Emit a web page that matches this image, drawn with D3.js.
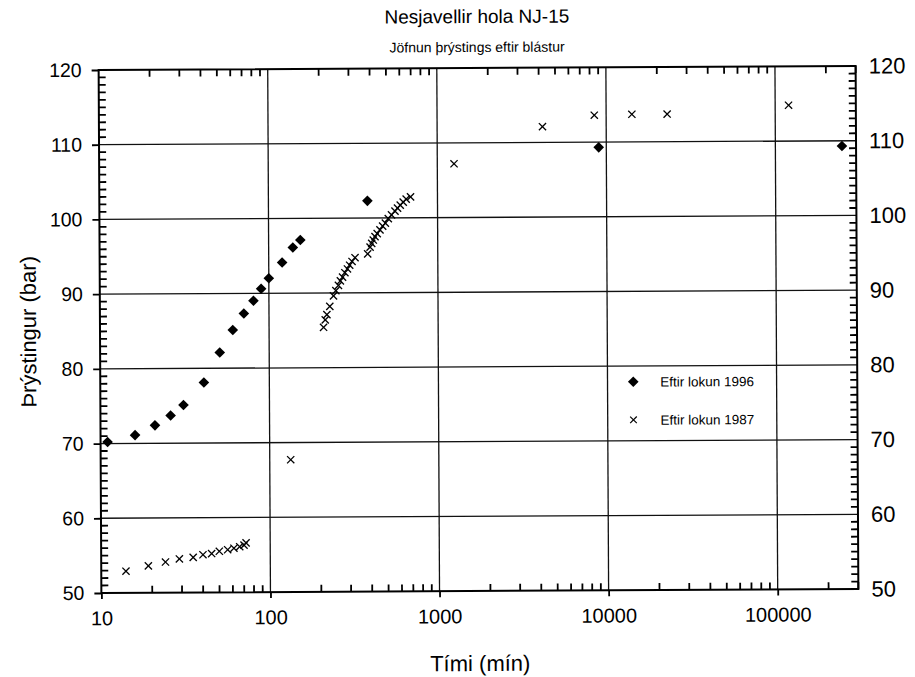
<!DOCTYPE html>
<html>
<head>
<meta charset="utf-8">
<script src="https://cdn.jsdelivr.net/npm/d3@7"></script>
<style>
  html, body { margin: 0; padding: 0; background: #fff; }
  svg { display: block; font-family: "Liberation Sans", Arial, Helvetica, sans-serif; }
</style>
</head>
<body>
<svg id="chart" width="915" height="677"></svg>
<script>
// Pressure recovery after flow stop, well NJ-15 (Nesjavellir)
const title = "Nesjavellir hola NJ-15";
const subtitle = "Jöfnun þrýstings eftir blástur";
const xTitle = "Tími (mín)";
const yTitle = "Þrýstingur (bar)";

// Series: after shut-in 1996 (diamonds)
const time1996 = [11, 16, 21, 26, 31, 41, 51, 61, 71, 81, 90, 100, 120, 139, 154, 385, 9020, 247600];
const pres1996 = [70.2, 71.1, 72.4, 73.7, 75.1, 78.1, 82.1, 85.1, 87.3, 89.0, 90.6, 92.0, 94.1, 96.1, 97.1, 102.3, 109.3, 109.3];

// Series: after shut-in 1987 (crosses)
const time1987 = [14, 19, 24, 29, 35, 40, 45, 50, 56, 61, 66, 70, 72,
  133,
  210, 215, 220, 229, 241, 249, 258, 265, 273, 282, 292, 301, 311, 324,
  385, 398, 407, 416, 426, 439, 456, 473, 491, 511, 534, 560, 580, 602, 627, 653, 693,
  1256, 4200, 8510, 14200, 22950, 120000];
const pres1987 = [52.9, 53.6, 54.1, 54.5, 54.7, 55.05, 55.2, 55.5, 55.7, 55.9, 56.1, 56.3, 56.6,
  67.7,
  85.4, 86.4, 87.1, 88.2, 89.6, 90.3, 91.0, 91.6, 92.1, 92.7, 93.2, 93.7, 94.2, 94.7,
  95.2, 96.1, 96.6, 97.05, 97.5, 97.9, 98.4, 98.9, 99.3, 99.9, 100.4, 100.9, 101.3, 101.7, 102.1, 102.5, 102.8,
  107.2, 112.1, 113.6, 113.7, 113.7, 114.8];

const legendLabels = ["Eftir lokun 1996", "Eftir lokun 1987"];

// Axis ticks
const xDecades = [10, 100, 1000, 10000, 100000];
const yMajor = [50, 60, 70, 80, 90, 100, 110, 120];

const svg = d3.select("#chart");
const pLeft = 100, pRight = 857, pTop = 68, pBottom = 591;
const W = pRight - pLeft, H = pBottom - pTop;
const cx = (pLeft + pRight) / 2, cy = (pTop + pBottom) / 2;

const x = d3.scaleLog().domain([10, 300000]).range([pLeft, pRight]);
const y = d3.scaleLinear().domain([50, 120]).range([pBottom, pTop]);

// minor ticks: 2..9 within each decade, and every 1 bar
const xMinor = [];
xDecades.forEach(d => { for (let k = 2; k <= 9; k++) { const v = d * k; if (v <= 300000) xMinor.push(v); } });
const yMinor = d3.range(51, 120, 1).filter(v => v % 10 !== 0);

// whole sheet sits very slightly askew
const g = svg.append("g").attr("transform", `rotate(-0.3,${cx},${cy})`);

// grid
g.append("g").selectAll("line").data(xDecades.slice(1)).join("line")
  .attr("x1", d => x(d)).attr("x2", d => x(d)).attr("y1", pTop).attr("y2", pBottom)
  .attr("stroke", "#111").attr("stroke-width", 1.3);
g.append("g").selectAll("line").data(yMajor.slice(1, -1)).join("line")
  .attr("x1", pLeft).attr("x2", pRight).attr("y1", d => y(d)).attr("y2", d => y(d))
  .attr("stroke", "#111").attr("stroke-width", 1.3);

// minor ticks pointing into the plot
const TL = 7;
const tickStyle = s => s.attr("stroke", "#000").attr("stroke-width", 1.8);
g.append("g").selectAll("line").data(xMinor).join("line")
  .attr("x1", d => x(d)).attr("x2", d => x(d)).attr("y1", pBottom).attr("y2", pBottom - TL).call(tickStyle);
g.append("g").selectAll("line").data(xMinor).join("line")
  .attr("x1", d => x(d)).attr("x2", d => x(d)).attr("y1", pTop).attr("y2", pTop + TL).call(tickStyle);
g.append("g").selectAll("line").data(yMinor).join("line")
  .attr("x1", pLeft).attr("x2", pLeft + TL).attr("y1", d => y(d)).attr("y2", d => y(d)).call(tickStyle);
g.append("g").selectAll("line").data(yMinor).join("line")
  .attr("x1", pRight).attr("x2", pRight - TL).attr("y1", d => y(d)).attr("y2", d => y(d)).call(tickStyle);

// frame
g.append("rect").attr("x", pLeft).attr("y", pTop).attr("width", W).attr("height", H)
  .attr("fill", "none").attr("stroke", "#000").attr("stroke-width", 2);

// labelled axes
const xAxis = g.append("g").attr("transform", `translate(0,${pBottom})`)
  .call(d3.axisBottom(x).tickValues(xDecades).tickSize(6).tickPadding(12).tickFormat(d3.format("d")));
xAxis.select(".domain").remove();
xAxis.selectAll("line").attr("stroke", "#000").attr("stroke-width", 1.8);
xAxis.selectAll("text").attr("font-size", 20).attr("fill", "#000")
  .attr("font-family", "Liberation Sans, Arial, sans-serif");

const yAxisL = g.append("g").attr("transform", `translate(${pLeft},0)`)
  .call(d3.axisLeft(y).tickValues(yMajor).tickSize(7).tickPadding(10).tickFormat(d3.format("d")));
yAxisL.select(".domain").remove();
yAxisL.selectAll("line").attr("stroke", "#000").attr("stroke-width", 1.8);
yAxisL.selectAll("text").attr("font-size", 19.5).attr("fill", "#000")
  .attr("font-family", "Liberation Sans, Arial, sans-serif");

const yAxisR = g.append("g").attr("transform", `translate(${pRight},0)`)
  .call(d3.axisRight(y).tickValues(yMajor).tickSize(0).tickPadding(13).tickFormat(d3.format("d")));
yAxisR.select(".domain").remove();
yAxisR.selectAll("text").attr("font-size", 22).attr("fill", "#000")
  .attr("font-family", "Liberation Sans, Arial, sans-serif");

// titles
g.append("text").attr("x", cx).attr("y", 23).attr("text-anchor", "middle")
  .attr("font-size", 19).text(title);
g.append("text").attr("x", cx).attr("y", 52).attr("text-anchor", "middle")
  .attr("font-size", 14).text(subtitle);
g.append("text").attr("x", cx).attr("y", 671).attr("text-anchor", "middle")
  .attr("font-size", 22).text(xTitle);
g.append("text").attr("transform", `translate(36,${cy}) rotate(-90)`)
  .attr("text-anchor", "middle").attr("font-size", 22).text(yTitle);

// markers
const diamond = d3.symbol().type(d3.symbolDiamond2).size(72);
function cross(sel, s) {
  sel.append("line").attr("x1", -s).attr("y1", -s).attr("x2", s).attr("y2", s);
  sel.append("line").attr("x1", -s).attr("y1", s).attr("x2", s).attr("y2", -s);
}

const d96 = time1996.map((t, i) => ({ t, p: pres1996[i] }));
const d87 = time1987.map((t, i) => ({ t, p: pres1987[i] }));

g.append("g").selectAll("path").data(d96).join("path")
  .attr("transform", d => `translate(${x(d.t)},${y(d.p)})`)
  .attr("d", diamond).attr("fill", "#000");

g.append("g").attr("stroke", "#000").attr("stroke-width", 1.3)
  .selectAll("g").data(d87).join("g")
  .attr("transform", d => `translate(${x(d.t)},${y(d.p)})`)
  .each(function () { cross(d3.select(this), 3.6); });

// legend
const lg = g.append("g");
const ly1 = y(77.9), ly2 = y(72.8);
lg.append("path").attr("transform", `translate(633,${ly1})`).attr("d", diamond).attr("fill", "#000");
lg.append("g").attr("transform", `translate(633,${ly2})`).attr("stroke", "#000").attr("stroke-width", 1.2)
  .call(s => cross(s, 3.3));
lg.append("text").attr("x", 660).attr("y", ly1 + 5).attr("font-size", 13.5).text(legendLabels[0]);
lg.append("text").attr("x", 660).attr("y", ly2 + 5).attr("font-size", 13.5).text(legendLabels[1]);
</script>
</body>
</html>
